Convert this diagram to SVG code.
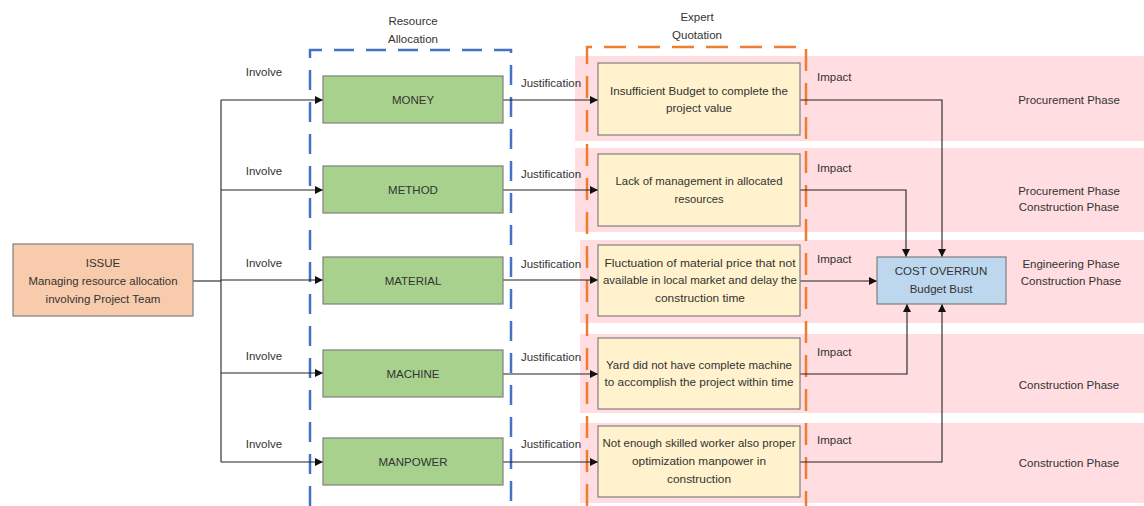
<svg xmlns="http://www.w3.org/2000/svg" width="1144" height="506" viewBox="0 0 1144 506">
<defs>
<marker id="arr" viewBox="0 0 8 8" refX="8" refY="4" markerWidth="8" markerHeight="8" markerUnits="userSpaceOnUse" orient="auto">
<path d="M0,0 L8,4 L0,8 z" fill="#111"/>
</marker>
<style>
text{font-family:"Liberation Sans",Arial,sans-serif;fill:#333;text-anchor:middle;dominant-baseline:central}
.t{font-size:11.5px}
.s{font-size:11px}
.lbl{font-size:11.5px}
.l{text-anchor:start}
.band{fill:#FFDDE0}
.box{stroke:#7f7f7f;stroke-width:1.2}
.issue{fill:#F8CBAD}
.green{fill:#A9D18E}
.yellow{fill:#FFF2CC}
.blue{fill:#BDD7EE}
.conn{fill:none;stroke:#222;stroke-width:1.1}
.arrow{marker-end:url(#arr)}
.dblue{fill:none;stroke:#4472C4;stroke-width:2.5;stroke-dasharray:20 12}
.dorange{fill:none;stroke:#ED7D31;stroke-width:2.5;stroke-dasharray:22 12}
</style>
</defs>
<rect width="1144" height="506" fill="#fff"/>

<g id="bands">
<rect class="band" x="575" y="56" width="569" height="85"/>
<rect class="band" x="575" y="148" width="569" height="84"/>
<rect class="band" x="580" y="240" width="564" height="83"/>
<rect class="band" x="580" y="334" width="564" height="79"/>
<rect class="band" x="580" y="423" width="564" height="80"/>
</g>

<g id="groups">
<path class="dblue" d="M310,506 V50 H511 V506"/>
<path class="dorange" d="M587,506 V47 H806 V506"/>
<text class="t" x="413" y="21">Resource</text>
<text class="t" x="413" y="39">Allocation</text>
<text class="t" x="697" y="17">Expert</text>
<text class="t" x="697" y="35">Quotation</text>
</g>

<g id="connectors">
<path class="conn" d="M193,281 H221"/>
<path class="conn" d="M221,100 V462"/>
<path class="conn arrow" d="M221,100 H323"/>
<path class="conn arrow" d="M221,190 H323"/>
<path class="conn arrow" d="M221,280 H323"/>
<path class="conn arrow" d="M221,373 H323"/>
<path class="conn arrow" d="M221,462 H323"/>
<path class="conn arrow" d="M503,100 H598"/>
<path class="conn arrow" d="M503,190 H598"/>
<path class="conn arrow" d="M503,280 H598"/>
<path class="conn arrow" d="M503,374 H598"/>
<path class="conn arrow" d="M503,462 H598"/>
<path class="conn arrow" d="M800,100 H942 V257"/>
<path class="conn arrow" d="M800,190 H906 V257"/>
<path class="conn arrow" d="M800,281 H877"/>
<path class="conn arrow" d="M800,374 H907 V304"/>
<path class="conn arrow" d="M800,462 H942 V304"/>
<g class="lbl">
<text x="264" y="72">Involve</text>
<text x="264" y="171">Involve</text>
<text x="264" y="263">Involve</text>
<text x="264" y="356">Involve</text>
<text x="264" y="444">Involve</text>
<text x="551" y="83">Justification</text>
<text x="551" y="174">Justification</text>
<text x="551" y="264">Justification</text>
<text x="551" y="357">Justification</text>
<text x="551" y="444">Justification</text>
<text class="l" x="817" y="77">Impact</text>
<text class="l" x="817" y="168">Impact</text>
<text class="l" x="817" y="259">Impact</text>
<text class="l" x="817" y="352">Impact</text>
<text class="l" x="817" y="440">Impact</text>
</g>
</g>

<g id="issue">
<rect class="box issue" x="13" y="244" width="180" height="72"/>
<text class="t" x="103" y="263">ISSUE</text>
<text class="t" x="103" y="281" textLength="149" lengthAdjust="spacingAndGlyphs">Managing resource allocation</text>
<text class="t" x="103" y="299">involving Project Team</text>
</g>

<g id="money">
<rect class="box green" x="323" y="76" width="180" height="47"/>
<text class="t" x="413" y="100">MONEY</text>
</g>
<g id="method">
<rect class="box green" x="323" y="166" width="180" height="47"/>
<text class="t" x="413" y="190">METHOD</text>
</g>
<g id="material">
<rect class="box green" x="323" y="257" width="180" height="47"/>
<text class="t" x="413" y="281">MATERIAL</text>
</g>
<g id="machine">
<rect class="box green" x="323" y="350" width="180" height="47"/>
<text class="t" x="413" y="374">MACHINE</text>
</g>
<g id="manpower">
<rect class="box green" x="323" y="438" width="180" height="47"/>
<text class="t" x="413" y="462">MANPOWER</text>
</g>

<g id="q-money">
<rect class="box yellow" x="598" y="63" width="202" height="72"/>
<text class="s" x="699" y="91" textLength="178" lengthAdjust="spacingAndGlyphs">Insufficient Budget to complete the</text>
<text class="s" x="699" y="108" textLength="66" lengthAdjust="spacingAndGlyphs">project value</text>
</g>
<g id="q-method">
<rect class="box yellow" x="598" y="154" width="202" height="72"/>
<text class="s" x="699" y="181" textLength="167" lengthAdjust="spacingAndGlyphs">Lack of management in allocated</text>
<text class="s" x="699" y="199" textLength="49" lengthAdjust="spacingAndGlyphs">resources</text>
</g>
<g id="q-material">
<rect class="box yellow" x="598" y="245" width="202" height="71"/>
<text class="s" x="700" y="263" textLength="191" lengthAdjust="spacingAndGlyphs">Fluctuation of material price that not</text>
<text class="s" x="700" y="280" textLength="194" lengthAdjust="spacingAndGlyphs">available in local market and delay the</text>
<text class="s" x="700" y="298" textLength="90" lengthAdjust="spacingAndGlyphs">construction time</text>
</g>
<g id="q-machine">
<rect class="box yellow" x="598" y="338" width="202" height="71"/>
<text class="s" x="699" y="365" textLength="186" lengthAdjust="spacingAndGlyphs">Yard did not have complete machine</text>
<text class="s" x="699" y="382" textLength="189" lengthAdjust="spacingAndGlyphs">to accomplish the project within time</text>
</g>
<g id="q-manpower">
<rect class="box yellow" x="598" y="426" width="202" height="71"/>
<text class="s" x="699" y="443" textLength="193" lengthAdjust="spacingAndGlyphs">Not enough skilled worker also proper</text>
<text class="s" x="699" y="461" textLength="134" lengthAdjust="spacingAndGlyphs">optimization manpower in</text>
<text class="s" x="699" y="479" textLength="64" lengthAdjust="spacingAndGlyphs">construction</text>
</g>

<g id="cost-overrun">
<rect class="box blue" x="877" y="257" width="129" height="47"/>
<text class="t" x="941" y="271">COST OVERRUN</text>
<text class="t" x="941" y="289">Budget Bust</text>
</g>

<g id="phases" class="t">
<text x="1069" y="100">Procurement Phase</text>
<text x="1069" y="191">Procurement Phase</text>
<text x="1069" y="207">Construction Phase</text>
<text x="1071" y="264">Engineering Phase</text>
<text x="1071" y="281">Construction Phase</text>
<text x="1069" y="385">Construction Phase</text>
<text x="1069" y="463">Construction Phase</text>
</g>
</svg>
